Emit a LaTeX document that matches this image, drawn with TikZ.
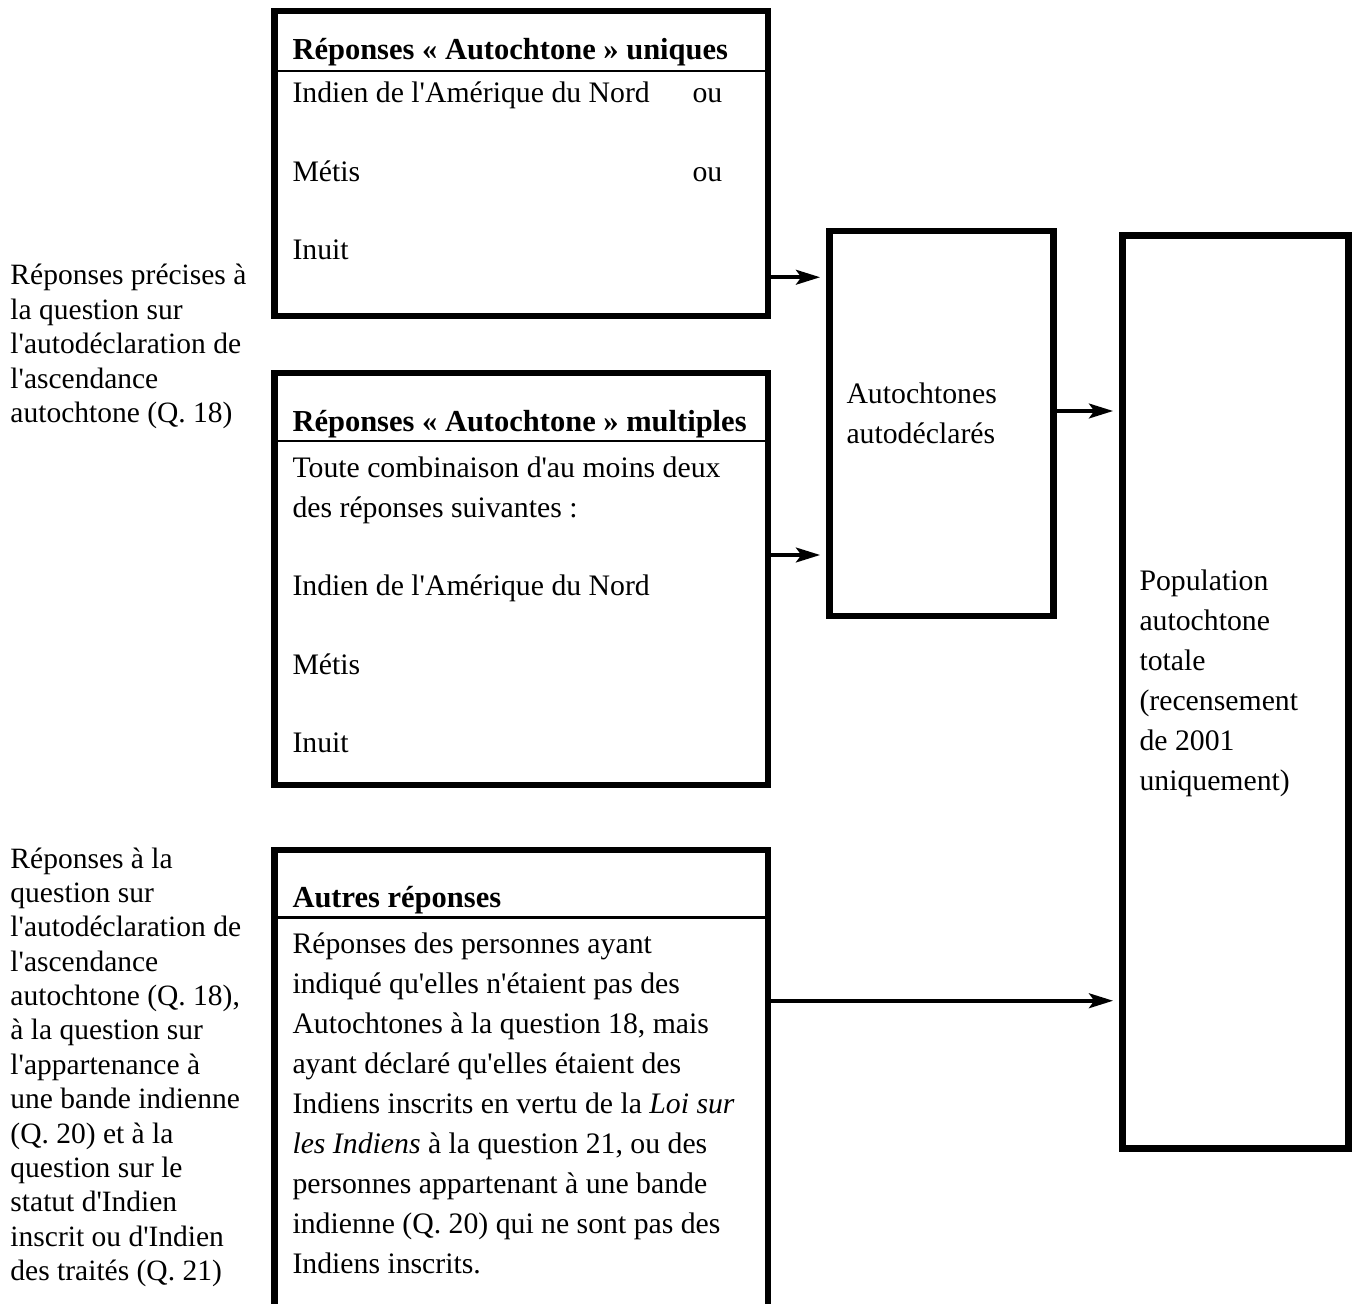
\documentclass[tikz,border=0pt]{standalone}
\usepackage{fontspec}
\setmainfont{Liberation Serif}
\usetikzlibrary{calc}
\usetikzlibrary{arrows.meta}
\newcommand{\apo}{\textquotesingle}

\begin{document}
\begin{tikzpicture}[
	x=0.4pt, y=-0.4pt,
	>={Stealth[length=9.6pt,width=5.8pt,inset=2pt]},
	box/.style={draw, line width=2.6pt, inner sep=0pt, minimum width=197.4pt},
	tall/.style={draw, line width=2.6pt, inner sep=0pt, minimum width=90pt},
	sep/.style={line width=1pt},
	flow/.style={->, line width=1.8pt, shorten >=2.4pt},
	txt/.style={anchor=base west, inner sep=0pt, align=left,
		font=\fontsize{11.9}{16}\selectfont},
	head/.style={txt, font=\fontsize{12.2}{16}\selectfont\bfseries},
	side/.style={anchor=base west, inner sep=0pt, align=left,
		font=\fontsize{11.8}{13.75}\selectfont},
]
	\useasboundingbox (0,0) rectangle (1352,1304);
	\clip (0,0) rectangle (1352,1304);

	% left notes (base = last line)
	\node[side] (q18) at (10,422.5) {Réponses précises à\\la question sur\\l\apo autodéclaration de\\l\apo ascendance\\autochtone (Q. 18)};
	\node[side] (q21) at (10,1280.5) {Réponses à la\\question sur\\l\apo autodéclaration de\\l\apo ascendance\\autochtone (Q. 18),\\à la question sur\\l\apo appartenance à\\une bande indienne\\(Q. 20) et à la\\question sur le\\statut d\apo Indien\\inscrit ou d\apo Indien\\des traités (Q. 21)};

	% response boxes
	\node[box, minimum height=122pt] (uniq) at (521,163.5) {};
	\draw[sep] ([yshift=-25.3pt]uniq.north west) -- ([yshift=-25.3pt]uniq.north east);
	\node[head] (uniqhead) at (292,60) {Réponses « Autochtone » uniques};
	\node[txt] (uniqbody) at (292,260) {Indien de l\apo Amérique du Nord\\[15.4pt]Métis\\[15.4pt]Inuit};
	\node[txt] (ou1) at (692,103) {ou};
	\node[txt] (ou2) at (692,181.5) {ou};

	\node[box, minimum height=164.6pt] (multi) at (521,579) {};
	\draw[sep] ([yshift=-28.5pt]multi.north west) -- ([yshift=-28.5pt]multi.north east);
	\node[head] (multihead) at (292,432) {Réponses « Autochtone » multiples};
	\node[txt] (multibody) at (292,752.5) {Toute combinaison d\apo au moins deux\\des réponses suivantes :\\[15.4pt]Indien de l\apo Amérique du Nord\\[15.4pt]Métis\\[15.4pt]Inuit};

	\node[box, minimum height=196pt] (autres) at (521,1095) {};
	\draw[sep] ([yshift=-28.3pt]autres.north west) -- ([yshift=-28.3pt]autres.north east);
	\node[head] (autreshead) at (292,907) {Autres réponses};
	\node[txt] (autresbody) at (292,1273) {Réponses des personnes ayant\\indiqué qu\apo elles n\apo étaient pas des\\Autochtones à la question 18, mais\\ayant déclaré qu\apo elles étaient des\\Indiens inscrits en vertu de la \textit{Loi sur}\\\textit{les Indiens} à la question 21, ou des\\personnes appartenant à une bande\\indienne (Q. 20) qui ne sont pas des\\Indiens inscrits.};

	% totals
	\node[tall, minimum width=89.6pt, minimum height=154pt] (decl) at (941.5,423.5) {};
	\node[txt] (decltext) at (846,443) {Autochtones\\autodéclarés};
	\node[tall, minimum width=90.4pt, minimum height=365.2pt] (pop) at (1235.5,692) {};
	\node[txt] (poptext) at (1139,790) {Population\\autochtone\\totale\\(recensement\\de 2001\\uniquement)};

	\draw[flow] ([yshift=16.8pt]uniq.south east) -- ([yshift=16.8pt]uniq.south east -| decl.west);
	\draw[flow] ([yshift=9.6pt]multi.east) -- ([yshift=9.6pt]multi.east -| decl.west);
	\draw[flow] ([yshift=5pt]decl.east) -- ([yshift=5pt]decl.east -| pop.west);
	\draw[flow] ([yshift=-61.6pt]autres.north east) -- ([yshift=-61.6pt]autres.north east -| pop.west);
\end{tikzpicture}
\end{document}
